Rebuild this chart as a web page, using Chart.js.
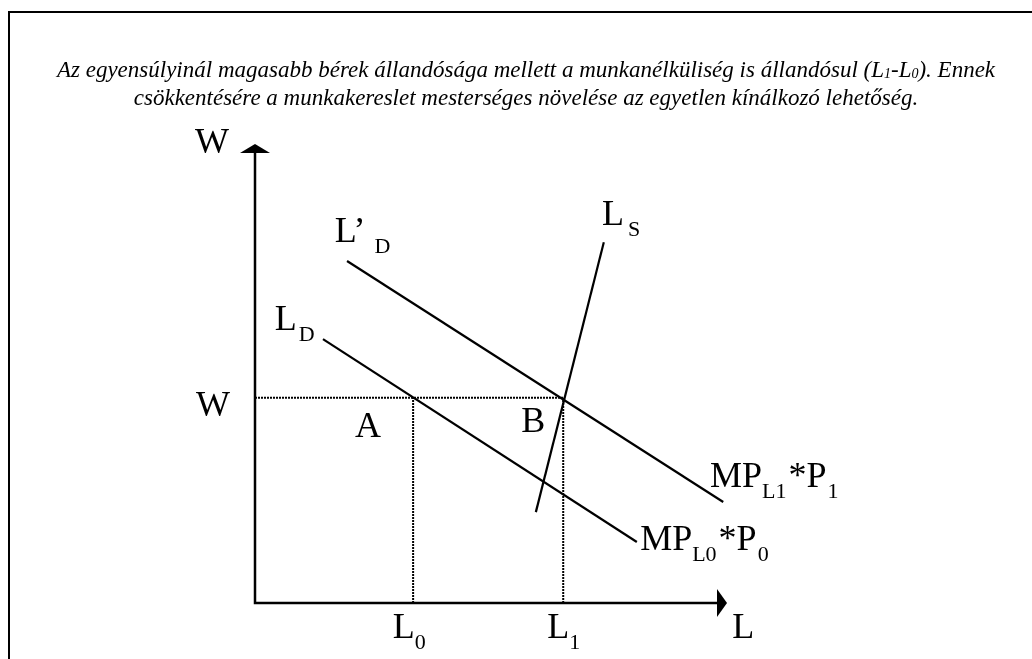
<!DOCTYPE html>
<html>
<head>
<meta charset="utf-8">
<script src="https://cdn.jsdelivr.net/npm/chart.js@4"></script>
<style>
  html, body { margin: 0; padding: 0; background: #fff; }
  canvas { display: block; }
</style>
</head>
<body>
<canvas id="c" width="1032" height="659"></canvas>
<script>
// ---- data (economic units) ----
const axisX = [0, 10];            // L axis range
const axisY = [0, 10];            // W axis range
const wageLevel = 4.47;           // W (above equilibrium)
const laborPoints = [3.35, 6.53]; // L0, L1
const ldX = [1.44, 8.09];         // L_D = MP_L0*P0
const ldY = [5.75, 1.33];
const ldPrimeX = [1.95, 9.92];    // L'_D = MP_L1*P1
const ldPrimeY = [7.45, 2.20];
const lsX = [7.39, 5.95];         // L_S
const lsY = [7.86, 1.98];

const titleLines = [
  [{t: 'Az egyensúlyinál magasabb bérek állandósága mellett a munkanélküliség is állandósul (L'}, {t: '1', sub: true}, {t: '-L'}, {t: '0', sub: true}, {t: '). Ennek'}],
  [{t: 'csökkentésére a munkakereslet mesterséges növelése az egyetlen kínálkozó lehetőség.'}]
];

// label anchors (data units)
const labels = [
  {x: -1.27, y: 9.80, parts: [{t: 'W'}]},
  {x: -1.25, y: 4.07, parts: [{t: 'W'}]},
  {x: 2.12, y: 3.62, parts: [{t: 'A'}]},
  {x: 5.64, y: 3.73, parts: [{t: 'B'}]},
  {x: 1.69, y: 7.86, parts: [{t: 'L’'}, {t: 'D', sub: true, gap: 9}]},
  {x: 0.42, y: 5.95, parts: [{t: 'L'}, {t: 'D', sub: true, gap: 2}]},
  {x: 7.35, y: 8.24, parts: [{t: 'L'}, {t: 'S', sub: true, gap: 4}]},
  {x: 9.64, y: 2.53, parts: [{t: 'MP'}, {t: 'L1', sub: true}, {t: '*P', gap: 2}, {t: '1', sub: true, gap: 1}]},
  {x: 8.16, y: 1.15, parts: [{t: 'MP'}, {t: 'L0', sub: true}, {t: '*P', gap: 2}, {t: '0', sub: true, gap: 1}]},
  {x: 2.92, y: -0.76, parts: [{t: 'L'}, {t: '0', sub: true}]},
  {x: 6.19, y: -0.76, parts: [{t: 'L'}, {t: '1', sub: true}]},
  {x: 10.11, y: -0.76, parts: [{t: 'L'}]}
];

const serif = '"Liberation Serif", "Times New Roman", serif';

function pts(xs, ys) { return xs.map((x, i) => ({x: x, y: ys[i]})); }

function drawParts(ctx, x, y, parts, size, subSize, subDrop, italic) {
  const st = italic ? 'italic ' : '';
  let cx = x;
  parts.forEach(p => {
    cx += (p.gap || 0);
    const s = p.sub ? subSize : size;
    ctx.font = st + s + 'px ' + serif;
    ctx.fillText(p.t, cx, y + (p.sub ? subDrop : 0));
    cx += ctx.measureText(p.t).width;
  });
  return cx - x;
}
function measureParts(ctx, parts, size, subSize, italic) {
  const st = italic ? 'italic ' : '';
  let w = 0;
  parts.forEach(p => {
    w += (p.gap || 0);
    ctx.font = st + (p.sub ? subSize : size) + 'px ' + serif;
    w += ctx.measureText(p.t).width;
  });
  return w;
}

const decor = {
  id: 'decor',
  afterDatasetsDraw(chart) {
    const ctx = chart.ctx;
    const sx = chart.scales.x, sy = chart.scales.y;
    ctx.save();
    ctx.fillStyle = '#000';
    ctx.strokeStyle = '#000';
    // frame (top and left only)
    ctx.lineWidth = 2;
    ctx.beginPath();
    ctx.moveTo(1032, 12); ctx.lineTo(9, 12); ctx.lineTo(9, 659);
    ctx.stroke();

    // axes with arrowheads
    const x0 = sx.getPixelForValue(axisX[0]);
    const y0 = sy.getPixelForValue(axisY[0]);
    const xEnd = sx.getPixelForValue(axisX[1]);
    const yEnd = sy.getPixelForValue(axisY[1]);
    ctx.lineWidth = 2.5;
    ctx.beginPath();
    ctx.moveTo(x0, yEnd + 8); ctx.lineTo(x0, y0); ctx.lineTo(xEnd - 9, y0);
    ctx.stroke();
    ctx.beginPath();
    ctx.moveTo(x0, yEnd); ctx.lineTo(x0 - 15, yEnd + 9); ctx.lineTo(x0 + 15, yEnd + 9); ctx.closePath();
    ctx.fill();
    ctx.beginPath();
    ctx.moveTo(xEnd, y0); ctx.lineTo(xEnd - 10, y0 - 14); ctx.lineTo(xEnd - 10, y0 + 14); ctx.closePath();
    ctx.fill();

    // title
    ctx.textBaseline = 'alphabetic';
    const tBase = [77, 105];
    titleLines.forEach((line, i) => {
      const w = measureParts(ctx, line, 23, 14, true);
      drawParts(ctx, 526 - w / 2, tBase[i], line, 23, 14, 1, true);
    });

    // labels
    labels.forEach(l => {
      drawParts(ctx, sx.getPixelForValue(l.x), sy.getPixelForValue(l.y), l.parts, 36, 22, 11, false);
    });
    ctx.restore();
  }
};

const lineStyle = {borderColor: '#000', borderWidth: 2.2, pointRadius: 0, fill: false, showLine: true, clip: false};
const dashStyle = {borderColor: '#000', borderWidth: 2, borderDash: [2, 1], pointRadius: 0, fill: false, showLine: true, clip: false};

new Chart(document.getElementById('c'), {
  type: 'scatter',
  data: {
    datasets: [
      Object.assign({label: 'W', data: [{x: 0, y: wageLevel}, {x: laborPoints[1], y: wageLevel}]}, dashStyle),
      Object.assign({label: 'L0', data: [{x: laborPoints[0], y: 0}, {x: laborPoints[0], y: wageLevel}]}, dashStyle),
      Object.assign({label: 'L1', data: [{x: laborPoints[1], y: 0}, {x: laborPoints[1], y: wageLevel}]}, dashStyle),
      Object.assign({label: 'LD', data: pts(ldX, ldY)}, lineStyle),
      Object.assign({label: "L'D", data: pts(ldPrimeX, ldPrimeY)}, lineStyle),
      Object.assign({label: 'LS', data: pts(lsX, lsY)}, lineStyle)
    ]
  },
  options: {
    responsive: false,
    animation: false,
    events: [],
    layout: {padding: {left: 255, right: 305, top: 144, bottom: 56}},
    scales: {
      x: {type: 'linear', min: axisX[0], max: axisX[1], display: false},
      y: {type: 'linear', min: axisY[0], max: axisY[1], display: false}
    },
    plugins: {legend: {display: false}, tooltip: {enabled: false}, title: {display: false}}
  },
  plugins: [decor]
});
</script>
</body>
</html>
